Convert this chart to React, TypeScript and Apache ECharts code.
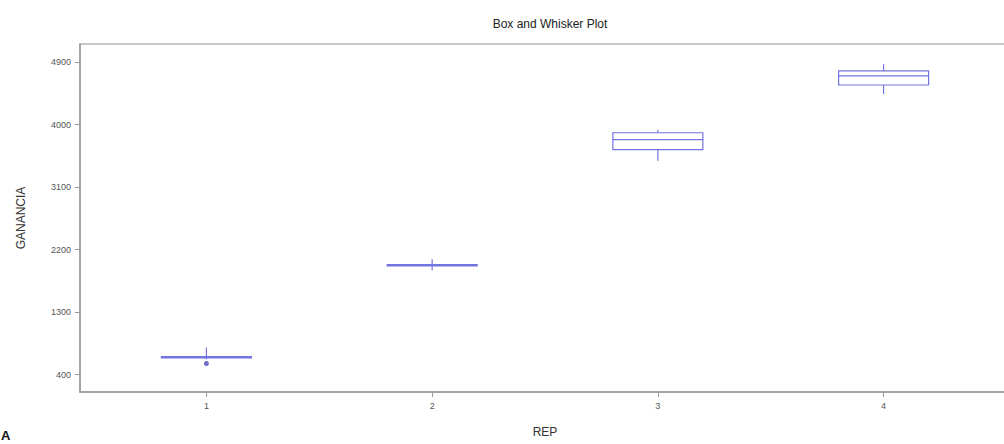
import React, { useEffect, useRef } from "react";
import * as echarts from "echarts";

const reps = [1, 2, 3, 4];
// [min, Q1, median, Q3, max]
const boxStats = [
  [620, 642, 650, 658, 790],
  [1900, 1966, 1975, 1984, 2060],
  [3480, 3640, 3782, 3882, 3925],
  [4440, 4570, 4700, 4772, 4870],
];
const outliers = [[1, 560]];
const yTicks = [400, 1300, 2200, 3100, 4000, 4900];

export default function App() {
  const ref = useRef<HTMLDivElement>(null);
  useEffect(() => {
    document.body.style.margin = "0";
    const chart = echarts.init(ref.current!, null, { renderer: "svg" });
    const axisColor = "#9a9a9a";
    const boxColor = "#7474e0";
    chart.setOption({
      animation: false,
      backgroundColor: "#ffffff",
      title: {
        text: "Box and Whisker Plot",
        left: 545,
        top: 13,
        textAlign: "center",
        textStyle: { fontSize: 12, fontWeight: "normal", color: "#222", fontFamily: "Liberation Sans" },
      },
      graphic: [
        {
          type: "text",
          left: 1,
          top: 429,
          style: { text: "A", fontSize: 13, fontWeight: "bold", fill: "#111", fontFamily: "Liberation Sans" },
        },
      ],
      grid: {
        left: 80,
        right: 0,
        top: 44,
        bottom: 52,
        show: true,
        borderColor: "#b5b5b5",
        borderWidth: 1.5,
      },
      xAxis: {
        type: "value",
        min: 0.44,
        max: 4.56,
        name: "REP",
        nameLocation: "middle",
        nameGap: 34,
        nameTextStyle: { fontSize: 12, color: "#333", fontFamily: "Liberation Sans" },
        splitLine: { show: false },
        axisLine: { show: true, lineStyle: { color: axisColor, width: 1.5 } },
        axisTick: { show: true, length: 5, lineStyle: { color: axisColor }, customValues: reps },
        axisLabel: {
          fontSize: 9,
          color: "#555",
          margin: 9,
          customValues: reps,
          fontFamily: "Liberation Sans",
          formatter: (v: number) => String(v),
        },
      },
      yAxis: {
        type: "value",
        min: 150,
        max: 5160,
        name: "GANANCIA",
        nameLocation: "middle",
        nameGap: 53,
        nameTextStyle: { fontSize: 12, color: "#333", fontFamily: "Liberation Sans" },
        splitLine: { show: false },
        axisLine: { show: true, lineStyle: { color: axisColor, width: 1.5 } },
        axisTick: { show: true, length: 5, lineStyle: { color: axisColor }, customValues: yTicks },
        axisLabel: {
          fontSize: 9,
          color: "#555",
          margin: 9,
          customValues: yTicks,
          fontFamily: "Liberation Sans",
          formatter: (v: number) => String(v),
        },
      },
      series: [
        {
          type: "custom",
          data: boxStats.map((s, i) => [reps[i], ...s]),
          encode: { x: 0, y: [1, 2, 3, 4, 5] },
          renderItem: (params: any, api: any) => {
            const x = api.value(0);
            const pMin = api.coord([x, api.value(1)]);
            const pQ1 = api.coord([x, api.value(2)]);
            const pMed = api.coord([x, api.value(3)]);
            const pQ3 = api.coord([x, api.value(4)]);
            const pMax = api.coord([x, api.value(5)]);
            const half = 45;
            const style = { stroke: boxColor, lineWidth: 1.2, fill: "none" };
            return {
              type: "group",
              children: [
                { type: "line", shape: { x1: pMin[0], y1: pMin[1], x2: pQ1[0], y2: pQ1[1] }, style },
                { type: "line", shape: { x1: pQ3[0], y1: pQ3[1], x2: pMax[0], y2: pMax[1] }, style },
                {
                  type: "rect",
                  shape: { x: pQ3[0] - half, y: pQ3[1], width: half * 2, height: Math.max(pQ1[1] - pQ3[1], 1) },
                  style,
                },
                { type: "line", shape: { x1: pMed[0] - half, y1: pMed[1], x2: pMed[0] + half, y2: pMed[1] }, style },
              ],
            };
          },
        },
        {
          type: "scatter",
          data: outliers,
          symbolSize: 5,
          itemStyle: { color: "#4a4ab8" },
        },
      ],
    });
    return () => chart.dispose();
  }, []);
  return (
    <div style={{ width: 1004, height: 444, overflow: "hidden" }}>
      <div ref={ref} style={{ width: 1010, height: 444 }} />
    </div>
  );
}
